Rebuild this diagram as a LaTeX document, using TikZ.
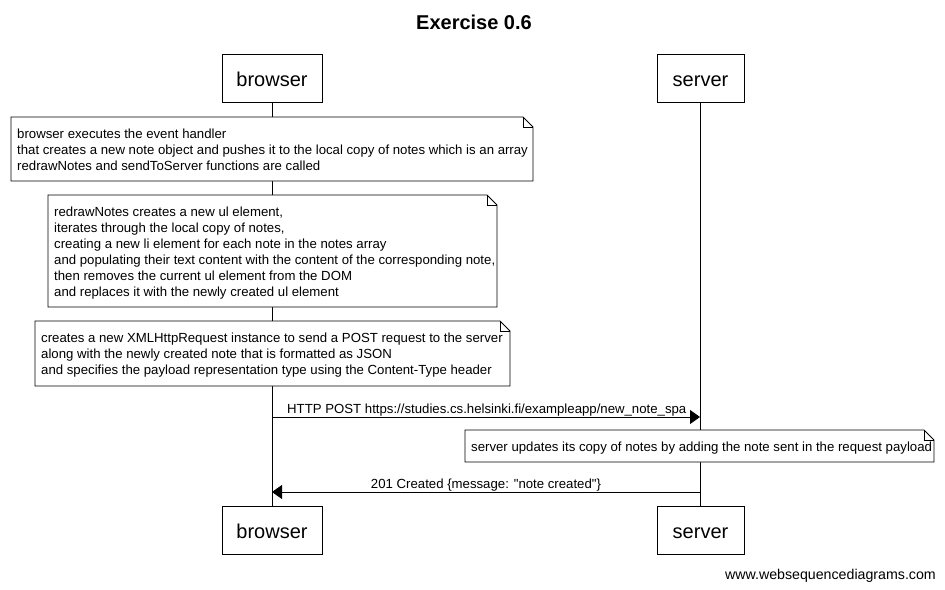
\documentclass[tikz,border=0pt]{standalone}
\usepackage{fontspec}
\setmainfont{Liberation Sans}
\newfontfamily\plainqfont{Liberation Sans}
\usetikzlibrary{arrows.meta}
\begin{document}
\begin{tikzpicture}[x=1pt,y=-1pt,
  actor/.style={draw,line width=0.8pt,fill=white,minimum width=100pt,minimum height=48pt,inner sep=0pt,text height=16pt,text depth=0pt,font=\fontsize{20}{24}\selectfont},
  notetext/.style={anchor=north west,inner sep=0pt,align=left,font=\fontsize{13.2}{16}\selectfont},
  noteline/.style={draw,line width=0.8pt,fill=white},
  life/.style={line width=0.8pt},
  msg/.style={line width=0.8pt,-{Triangle[length=10pt,width=14pt]}},
  lbl/.style={inner sep=0pt,font=\fontsize{13.2}{16}\selectfont}]
\useasboundingbox (0,0) rectangle (945,589);
\fill[white] (0,0) rectangle (945,589);
% title
\node[font=\bfseries\fontsize{20}{24}\selectfont] (title) at (474,22) {Exercise 0.6};
% actors
\node[actor] (b1) at (272,78) {browser};
\node[actor,minimum width=87pt] (s1) at (700.5,78) {server};
\node[actor] (b2) at (272,530.5) {browser};
\node[actor,minimum width=87pt] (s2) at (700.5,530.5) {server};
% lifelines
\draw[life] (b1.south) -- (b2.north);
\draw[life] (s1.south) -- (s2.north);
% note 1
\draw[noteline] (11,117) -- (523,117) -- (533,127) -- (533,181) -- (11,181) -- cycle;
\draw[line width=0.8pt] (523,117) -- (523,127) -- (533,127);
\node[notetext] (n1) at (17,128.5) {browser executes the event handler\\that creates a new note object and pushes it to the local copy of notes which is an array\\redrawNotes and sendToServer functions are called};
% note 2
\draw[noteline] (48,195) -- (487,195) -- (497,205) -- (497,307) -- (48,307) -- cycle;
\draw[line width=0.8pt] (487,195) -- (487,205) -- (497,205);
\node[notetext] (n2) at (54,206.5) {redrawNotes creates a new ul element,\\iterates through the local copy of notes,\\creating a new li element for each note in the notes array\\and populating their text content with the content of the corresponding note,\\then removes the current ul element from the DOM\\and replaces it with the newly created ul element};
% note 3
\draw[noteline] (35,321) -- (500,321) -- (510,331) -- (510,386) -- (35,386) -- cycle;
\draw[line width=0.8pt] (500,321) -- (500,331) -- (510,331);
\node[notetext] (n3) at (41,332.5) {creates a new XMLHttpRequest instance to send a POST request to the server\\along with the newly created note that is formatted as JSON\\and specifies the payload representation type using the Content-Type header};
% message 1
\coordinate (m1s) at (272,417);
\coordinate (m1e) at (700,417);
\draw[msg] (m1s) -- (m1e);
\node[lbl,anchor=base west] (l1) at (287,413) {HTTP POST https://studies.cs.helsinki.fi/exampleapp/new\_note\_spa};
% note 4
\draw[noteline] (465,430) -- (924,430) -- (934,440) -- (934,462) -- (465,462) -- cycle;
\draw[line width=0.8pt] (924,430) -- (924,440) -- (934,440);
\node[notetext] (n4) at (471,441.5) {server updates its copy of notes by adding the note sent in the request payload};
% message 2
\coordinate (m2s) at (700,492);
\coordinate (m2e) at (272,492);
\draw[msg] (m2s) -- (m2e);
\node[lbl,anchor=base] (l2) at (486,488) {\plainqfont 201 Created \{message: "note created"\}};
% watermark
\node[lbl,anchor=base east,font=\fontsize{14.2}{16}\selectfont] (wm) at (936,579) {www.websequencediagrams.com};
\end{tikzpicture}
\end{document}
